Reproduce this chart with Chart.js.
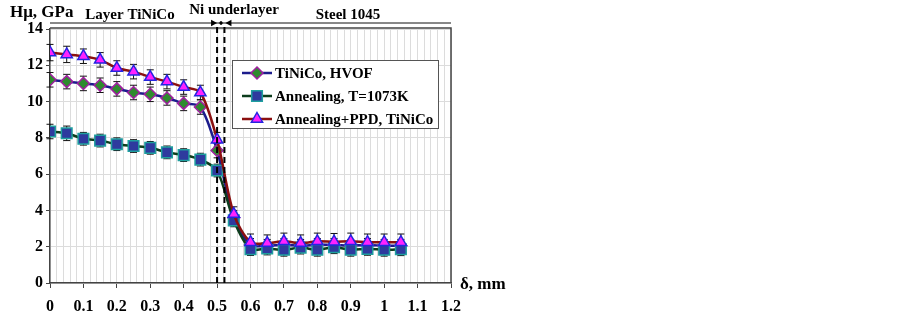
<!DOCTYPE html>
<html>
<head>
<meta charset="utf-8">
<script src="https://cdn.jsdelivr.net/npm/chart.js@4.4.1/dist/chart.umd.min.js"></script>
<style>
html, body { margin: 0; padding: 0; background: #fff; }
#wrap { width: 903px; height: 319px; position: relative; }
</style>
</head>
<body>
<div id="wrap"><canvas id="myChart"></canvas></div>
<script>
// depth, mm
var depth = [0, 0.05, 0.1, 0.15, 0.2, 0.25, 0.3, 0.35, 0.4, 0.45, 0.5, 0.55, 0.6, 0.65, 0.7, 0.75, 0.8, 0.85, 0.9, 0.95, 1.0, 1.05];
// microhardness, GPa
var hvof     = [11.2, 11.1, 11.0, 10.9, 10.7, 10.5, 10.4, 10.2, 9.9, 9.7, 7.3, 3.6, 2.1, 2.05, 2.1, 2.05, 2.1, 2.1, 2.05, 2.1, 2.05, 2.05];
var annealed = [8.35, 8.25, 7.95, 7.85, 7.65, 7.55, 7.45, 7.2, 7.05, 6.8, 6.2, 3.45, 1.87, 1.9, 1.83, 1.95, 1.83, 1.97, 1.83, 1.88, 1.83, 1.86];
var ppd      = [12.7, 12.6, 12.5, 12.3, 11.85, 11.65, 11.35, 11.1, 10.8, 10.5, 7.9, 3.8, 2.25, 2.2, 2.3, 2.2, 2.3, 2.28, 2.3, 2.25, 2.25, 2.25];
var hvofErr     = [0.4, 0.4, 0.4, 0.4, 0.4, 0.4, 0.4, 0.4, 0.4, 0.4, 0.4, 0.4, 0.35, 0.35, 0.35, 0.35, 0.35, 0.35, 0.35, 0.35, 0.35, 0.35];
var annealedErr = [0.4, 0.4, 0.35, 0.35, 0.35, 0.35, 0.35, 0.35, 0.35, 0.35, 0.35, 0.35, 0.35, 0.35, 0.35, 0.35, 0.35, 0.35, 0.35, 0.35, 0.35, 0.35];
var ppdErr      = [0.45, 0.45, 0.4, 0.4, 0.4, 0.4, 0.4, 0.4, 0.4, 0.4, 0.4, 0.4, 0.45, 0.45, 0.45, 0.45, 0.45, 0.45, 0.45, 0.45, 0.45, 0.45];
var seriesNames = ['TiNiCo, HVOF', 'Annealing, T=1073K', 'Annealing+PPD, TiNiCo'];
// zone boundaries (Ni underlayer), mm
var boundaries = [0.5, 0.522];
var zoneLabels = ['Layer TiNiCo', 'Ni underlayer', 'Steel 1045'];

var FONT = '"Liberation Serif", "Times New Roman", serif';

function pts(ys) {
    return depth.map(function(x, i){ return {x: x, y: ys[i]}; });
}

function marker(ctx, style, x, y, r, fill, stroke) {
    ctx.save();
    ctx.fillStyle = fill;
    ctx.strokeStyle = stroke;
    ctx.lineWidth = 1.5;
    ctx.beginPath();
    if (style === 'rectRot') {
        ctx.moveTo(x, y - r); ctx.lineTo(x + r, y); ctx.lineTo(x, y + r); ctx.lineTo(x - r, y);
    } else if (style === 'rect') {
        var s = r * Math.SQRT1_2;
        ctx.rect(x - s, y - s, 2 * s, 2 * s);
    } else {
        ctx.moveTo(x, y - r); ctx.lineTo(x + r * 0.866, y + r * 0.5); ctx.lineTo(x - r * 0.866, y + r * 0.5);
    }
    ctx.closePath();
    ctx.fill();
    ctx.stroke();
    ctx.restore();
}

var errors = [hvofErr, annealedErr, ppdErr];

var decor = {
    id: 'decor',
    beforeDatasetsDraw: function(chart){
        var ctx = chart.ctx, ys = chart.scales.y;
        ctx.save();
        ctx.strokeStyle = '#111';
        ctx.lineWidth = 1;
        chart.data.datasets.forEach(function(ds, di){
            var meta = chart.getDatasetMeta(di);
            meta.data.forEach(function(p, i){
                var v = ds.data[i].y, e = errors[di][i];
                var t = ys.getPixelForValue(v + e), b = ys.getPixelForValue(v - e);
                ctx.beginPath();
                ctx.moveTo(p.x, t); ctx.lineTo(p.x, b);
                ctx.moveTo(p.x - 3.5, t); ctx.lineTo(p.x + 3.5, t);
                ctx.moveTo(p.x - 3.5, b); ctx.lineTo(p.x + 3.5, b);
                ctx.stroke();
            });
        });
        ctx.restore();
    },
    afterDraw: function(chart){
        var ctx = chart.ctx, a = chart.chartArea, xs = chart.scales.x;
        ctx.save();
        // frame top/right
        ctx.strokeStyle = '#444';
        ctx.lineWidth = 1.5;
        ctx.beginPath();
        ctx.moveTo(a.left, a.top - 1); ctx.lineTo(a.right, a.top - 1); ctx.lineTo(a.right, a.bottom);
        ctx.stroke();

        // boundaries
        ctx.strokeStyle = '#000';
        ctx.lineWidth = 2;
        ctx.setLineDash([6, 4]);
        boundaries.forEach(function(b){
            var x = xs.getPixelForValue(b);
            ctx.beginPath(); ctx.moveTo(x, a.top - 2); ctx.lineTo(x, a.bottom); ctx.stroke();
        });
        ctx.setLineDash([]);

        // zone arrow line
        var yl = 23;
        var x0 = xs.getPixelForValue(boundaries[0]), x1 = xs.getPixelForValue(boundaries[1]);
        ctx.strokeStyle = '#111';
        ctx.lineWidth = 1;
        ctx.beginPath(); ctx.moveTo(a.left, yl); ctx.lineTo(a.right, yl); ctx.stroke();
        ctx.fillStyle = '#000';
        function arrow(tip, dir, s) {
            ctx.beginPath();
            ctx.moveTo(tip, yl); ctx.lineTo(tip - dir * s, yl - s * 0.55); ctx.lineTo(tip - dir * s, yl + s * 0.55);
            ctx.closePath(); ctx.fill();
        }
        arrow(x0, 1, 6); arrow(x0 + 1.5, -1, 3.5); arrow(x1 - 1, 1, 3.5); arrow(x1 + 1, -1, 6);

        // texts
        ctx.fillStyle = '#000';
        ctx.textBaseline = 'alphabetic';
        ctx.textAlign = 'left';
        ctx.font = 'bold 17px ' + FONT;
        ctx.fillText('H\u03bc, GPa', 10, 17);
        ctx.font = 'bold 15px ' + FONT;
        ctx.textAlign = 'center';
        ctx.fillText(zoneLabels[0], 130, 19);
        ctx.fillText(zoneLabels[1], 234, 14);
        ctx.fillText(zoneLabels[2], 348, 19);
        ctx.font = 'bold 17px ' + FONT;
        ctx.textAlign = 'left';
        ctx.fillText('\u03b4, mm', 460, 289);

        // legend
        var lx = 232, ly = 60, lw = 206, lh = 68;
        ctx.fillStyle = '#fff';
        ctx.fillRect(lx, ly, lw, lh);
        ctx.strokeStyle = '#555';
        ctx.lineWidth = 1;
        ctx.strokeRect(lx + 0.5, ly + 0.5, lw, lh);
        var rows = [73, 96, 119];
        ctx.font = 'bold 15px ' + FONT;
        ctx.textBaseline = 'middle';
        chart.data.datasets.forEach(function(ds, i){
            var y = rows[i];
            ctx.strokeStyle = ds.borderColor;
            ctx.lineWidth = 2.5;
            ctx.beginPath(); ctx.moveTo(242, y); ctx.lineTo(272, y); ctx.stroke();
            marker(ctx, ds.pointStyle, 257, y, ds.pointRadius, ds.pointBackgroundColor, ds.pointBorderColor);
            ctx.fillStyle = '#000';
            ctx.fillText(seriesNames[i], 275, y + 1);
        });
        ctx.restore();
    }
};

document.addEventListener('DOMContentLoaded', function(){
    var data = {
        datasets: [{
            label: seriesNames[0],
            data: pts(hvof),
            borderColor: '#1c1c8c',
            borderWidth: 2.5,
            pointStyle: 'rectRot',
            pointRadius: 6,
            pointBackgroundColor: '#2e8b2e',
            pointBorderColor: '#a020a0',
            pointBorderWidth: 1.5,
            tension: 0.3,
            order: 3
        }, {
            label: seriesNames[1],
            data: pts(annealed),
            borderColor: '#0d3d1d',
            borderWidth: 2.5,
            pointStyle: 'rect',
            pointRadius: 7.5,
            pointBackgroundColor: '#2e3a9e',
            pointBorderColor: '#1f9f9f',
            pointBorderWidth: 1.5,
            tension: 0.3,
            order: 2
        }, {
            label: seriesNames[2],
            data: pts(ppd),
            borderColor: '#8b1010',
            borderWidth: 2.5,
            pointStyle: 'triangle',
            pointRadius: 6.5,
            pointBackgroundColor: '#ff22ff',
            pointBorderColor: '#2525e0',
            pointBorderWidth: 1.5,
            tension: 0.3,
            order: 1
        }]
    };
    var tickFont = {family: FONT, size: 16, weight: 'bold'};
    var options = {
        responsive: true,
        maintainAspectRatio: false,
        animation: false,
        layout: {padding: {left: 0, right: 452, top: 29, bottom: 0}},
        plugins: {legend: {display: false}, tooltip: {enabled: false}},
        scales: {
            x: {
                type: 'linear', min: 0, max: 1.2,
                afterFit: function(s){ s.height = 36; },
                ticks: {
                    stepSize: 0.02, autoSkip: false, maxRotation: 0, padding: 9,
                    color: '#000', font: tickFont,
                    callback: function(v){
                        var k = Math.round(v * 50);
                        return k % 5 === 0 ? String(Math.round(v * 10) / 10) : '';
                    }
                },
                grid: {
                    color: '#dcdcdc', lineWidth: 1, tickLength: 5,
                    tickColor: function(c){
                        return Math.round(c.tick.value * 50) % 5 === 0 ? '#444' : 'rgba(0,0,0,0)';
                    }
                },
                border: {color: '#444', width: 1.5}
            },
            y: {
                min: 0, max: 14,
                afterFit: function(s){ s.width = 50; },
                ticks: {stepSize: 2, padding: 3, color: '#000', font: tickFont},
                grid: {color: '#dcdcdc', lineWidth: 1, tickLength: 4, tickColor: '#444'},
                border: {color: '#444', width: 1.5}
            }
        }
    };
    var ctx = document.getElementById('myChart').getContext('2d');
    var myChart = new Chart(ctx, {
        type: 'line',
        data: data,
        options: options,
        plugins: [decor]
    });
});
</script>
</body>
</html>
